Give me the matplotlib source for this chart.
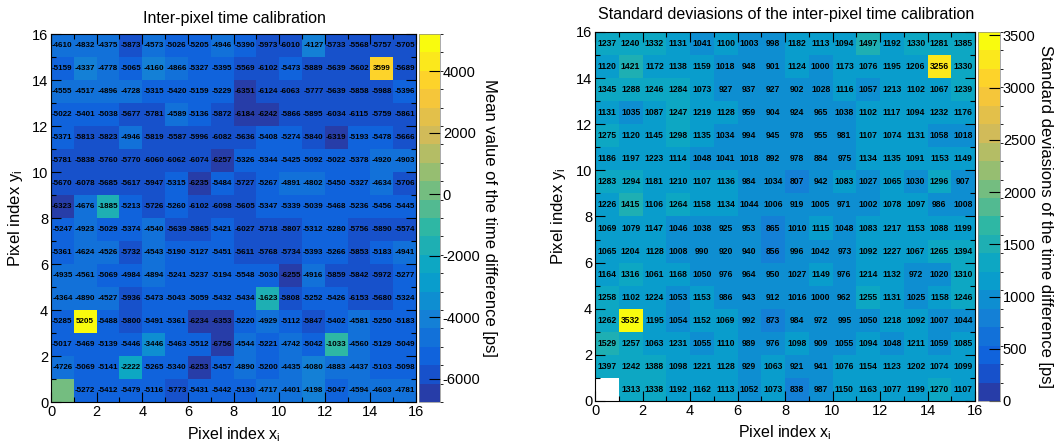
import numpy as np
import matplotlib
matplotlib.use("Agg")
import matplotlib.pyplot as plt
from matplotlib.colors import LinearSegmentedColormap, ListedColormap, BoundaryNorm

plt.rcParams['font.family'] = ['Liberation Sans', 'DejaVu Sans']
plt.rcParams['mathtext.default'] = 'regular'
plt.rcParams['axes.unicode_minus'] = False

# mean time difference [ps], rows from y=15 (top) down to y=0
mean_rows = [
    [-4610, -4832, -4375, -5873, -4573, -5026, -5205, -4946, -5390, -5973, -6010, -4127, -5733, -5568, -5757, -5705],
    [-5159, -4337, -4778, -5065, -4160, -4866, -5327, -5395, -5569, -6102, -5473, -5889, -5639, -5602, 3599, -5689],
    [-4555, -4517, -4896, -4728, -5315, -5420, -5159, -5229, -6351, -6124, -6063, -5777, -5639, -5858, -5988, -5396],
    [-5022, -5401, -5038, -5677, -5781, -4589, -5136, -5872, -6184, -6242, -5866, -5895, -6034, -6115, -5759, -5861],
    [-5371, -5813, -5823, -4946, -5819, -5587, -5996, -6082, -5636, -5408, -5274, -5840, -6319, -5193, -5478, -5666],
    [-5781, -5838, -5760, -5770, -6060, -6062, -6074, -6257, -5326, -5344, -5425, -5092, -5022, -5378, -4920, -4903],
    [-5670, -6078, -5685, -5617, -5947, -5315, -6235, -5484, -5727, -5267, -4891, -4802, -5450, -5327, -4634, -5706],
    [-6323, -4676, -1885, -5213, -5726, -5260, -6102, -6098, -5605, -5347, -5339, -5039, -5468, -5236, -5456, -5445],
    [-5247, -4923, -5029, -5374, -4540, -5639, -5865, -5421, -6027, -5718, -5807, -5312, -5280, -5756, -5890, -5574],
    [-5361, -4624, -4526, -5732, -4543, -5190, -5127, -5451, -5611, -5768, -5734, -5393, -5266, -5853, -5183, -4941],
    [-4935, -4561, -5069, -4984, -4894, -5241, -5237, -5194, -5548, -5030, -6255, -4916, -5859, -5842, -5972, -5277],
    [-4364, -4890, -4527, -5936, -5473, -5043, -5059, -5432, -5434, -1623, -5808, -5252, -5426, -6153, -5680, -5324],
    [-5285, 5205, -5488, -5800, -5491, -5361, -6234, -6353, -5220, -4929, -5112, -5847, -5402, -4581, -5250, -5183],
    [-5017, -5469, -5139, -5446, -3446, -5463, -5512, -6756, -4544, -5221, -4742, -5042, -1033, -4560, -5129, -5049],
    [-4726, -5069, -5141, -2222, -5265, -5340, -6253, -5457, -4890, -5200, -4435, -4080, -4883, -4437, -5103, -5098],
    [0, -5272, -5412, -5479, -5116, -5773, -5431, -5442, -5130, -4717, -4401, -4198, -5047, -4594, -4603, -4781],
]

# standard deviation [ps], same layout
std_rows = [
    [1237, 1240, 1332, 1131, 1041, 1100, 1003, 998, 1182, 1113, 1094, 1497, 1192, 1330, 1281, 1385],
    [1120, 1421, 1172, 1138, 1159, 1018, 948, 901, 1124, 1000, 1173, 1076, 1195, 1206, 3256, 1330],
    [1345, 1288, 1246, 1284, 1073, 927, 937, 927, 902, 1028, 1116, 1057, 1213, 1102, 1067, 1239],
    [1131, 1035, 1087, 1247, 1219, 1128, 959, 904, 924, 965, 1038, 1102, 1117, 1094, 1232, 1176],
    [1275, 1120, 1145, 1298, 1135, 1034, 994, 945, 978, 955, 981, 1107, 1074, 1131, 1058, 1018],
    [1186, 1197, 1223, 1114, 1048, 1041, 1018, 892, 978, 884, 975, 1134, 1135, 1091, 1153, 1149],
    [1283, 1294, 1181, 1210, 1107, 1136, 984, 1034, 807, 942, 1083, 1027, 1065, 1030, 1296, 907],
    [1226, 1415, 1106, 1264, 1158, 1134, 1044, 1006, 919, 1005, 971, 1002, 1078, 1097, 986, 1008],
    [1069, 1079, 1147, 1046, 1038, 925, 953, 865, 1010, 1115, 1048, 1083, 1217, 1153, 1088, 1199],
    [1065, 1204, 1128, 1008, 990, 920, 940, 856, 996, 1042, 973, 1092, 1227, 1067, 1265, 1394],
    [1164, 1316, 1061, 1168, 1050, 976, 964, 950, 1027, 1149, 976, 1214, 1132, 972, 1020, 1310],
    [1258, 1102, 1224, 1053, 1153, 986, 943, 912, 1016, 1000, 962, 1255, 1131, 1025, 1158, 1246],
    [1262, 3532, 1195, 1054, 1152, 1069, 992, 873, 984, 972, 995, 1050, 1218, 1092, 1007, 1044],
    [1529, 1257, 1063, 1231, 1055, 1110, 989, 976, 1098, 909, 1055, 1094, 1048, 1211, 1059, 1085],
    [1397, 1242, 1388, 1098, 1221, 1128, 929, 1063, 921, 941, 1076, 1154, 1123, 1202, 1074, 1099],
    [0, 1313, 1338, 1192, 1162, 1113, 1052, 1073, 838, 987, 1150, 1163, 1077, 1199, 1270, 1107],
]

mean_ticks = [-6000, -4000, -2000, 0, 2000, 4000]
std_ticks = [0, 500, 1000, 1500, 2000, 2500, 3000, 3500]

# ROOT kBird palette
bird_r = [0.2082, 0.0592, 0.0780, 0.0232, 0.1802, 0.5301, 0.8186, 0.9956, 0.9764]
bird_g = [0.1664, 0.3599, 0.5041, 0.6419, 0.7178, 0.7492, 0.7328, 0.7862, 0.9832]
bird_b = [0.5293, 0.8684, 0.8385, 0.7914, 0.6425, 0.4662, 0.3499, 0.1968, 0.0539]
bird = LinearSegmentedColormap.from_list('bird', list(zip(bird_r, bird_g, bird_b)), N=255)
ncont = 20
cmap20 = ListedColormap([bird((i + 0.99) / ncont) for i in range(ncont)])
cmap20.set_bad('white')

W, H = 1055, 443
fig = plt.figure(figsize=(W / 100, H / 100), dpi=100)
TICK_FS = 10.5
LAB_FS = 11.5
CB_FS = 12
TITLE_FS = 11.5


def px(x0, y0, x1, y1):
    return [x0 / W, 1 - y1 / H, (x1 - x0) / W, (y1 - y0) / H]


def panel(box, cbox, rows, vmin, vmax, ticks, cblabel, fs, mask_zero, ylab_x, xlab_y, cblab_x):
    z = np.array(rows[::-1], dtype=float)
    if mask_zero:
        z = np.ma.masked_equal(z, 0)
    ax = fig.add_axes(px(*box))
    norm = BoundaryNorm(np.linspace(vmin, vmax, ncont + 1), ncont)
    edges = np.arange(17)
    mesh = ax.pcolormesh(edges, edges, z, cmap=cmap20, norm=norm)
    for j in range(16):
        for i in range(16):
            v = rows[15 - j][i]
            if v == 0:
                continue
            ax.text(i + 0.5, j + 0.5, str(v), ha='center', va='center',
                    fontsize=fs, fontweight='bold', color='black')
    ax.set_xlim(0, 16)
    ax.set_ylim(0, 16)
    ax.set_xticks(range(0, 17, 2))
    ax.set_yticks(range(0, 17, 2))
    ax.set_xticks(range(17), minor=True)
    ax.set_yticks(range(17), minor=True)
    ax.tick_params(which='both', direction='in', top=True, right=True, labelsize=TICK_FS)
    ax.tick_params(which='major', length=7, width=0.8)
    ax.tick_params(which='minor', length=3.5, width=0.8)
    ax.tick_params(axis='x', pad=2)
    ax.tick_params(axis='y', pad=2)
    ax.set_xlabel('Pixel index x$_{i}$', fontsize=LAB_FS)
    ax.set_ylabel('Pixel index y$_{i}$', fontsize=LAB_FS + 0.5)
    x0, y0, x1, y1 = box
    ax.xaxis.set_label_coords(0.5, (y1 - xlab_y) / (y1 - y0))
    ax.xaxis.label.set_va('center')
    ax.yaxis.set_label_coords((ylab_x - x0) / (x1 - x0), 0.5)
    ax.yaxis.label.set_va('center')
    for s in ax.spines.values():
        s.set_linewidth(0.8)
    cax = fig.add_axes(px(*cbox))
    cb = fig.colorbar(mesh, cax=cax, ticks=ticks)
    cb.outline.set_linewidth(0.5)
    cb.outline.set_edgecolor('#888888')
    cax.tick_params(direction='in', length=8, width=0.8, labelsize=TICK_FS, pad=2)
    cb.set_label(cblabel, rotation=270, fontsize=CB_FS)
    c0, _, c1, _ = cbox
    cax.yaxis.set_label_coords((cblab_x - c0) / (c1 - c0), 0.5)
    cax.yaxis.label.set_va('center')
    cax.yaxis.label.set_ha('center')
    return ax


panel((51, 34, 416, 402), (419, 34, 440, 402), mean_rows, -6756, 5205,
      mean_ticks, 'Mean value of the time difference [ps]', 5.8, False,
      16, 435, 489)
panel((595, 32, 975, 401), (978, 32, 1000, 401), std_rows, 0, 3532,
      std_ticks, 'Standard deviasions of the time difference [ps]', 6.2, True,
      559, 433, 1046)

fig.text(234 / W, 1 - 18 / H, 'Inter-pixel time calibration', ha='center', va='center', fontsize=TITLE_FS)
fig.text(786 / W, 1 - 14 / H, 'Standard deviasions of the inter-pixel time calibration',
         ha='center', va='center', fontsize=TITLE_FS)

fig.savefig('out.png', dpi=100)
